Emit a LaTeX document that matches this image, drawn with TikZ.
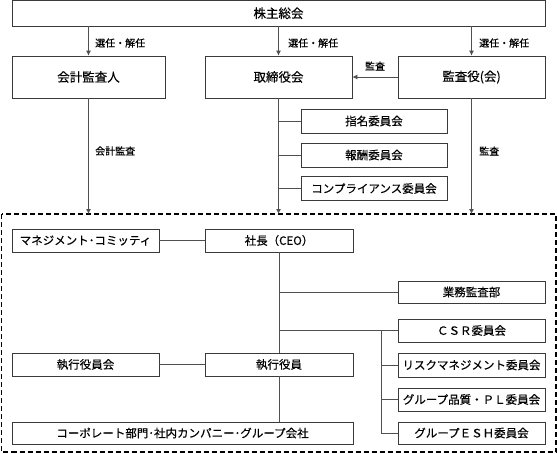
\documentclass[tikz,border=0pt]{standalone}
\usepackage{fontspec}
\setmainfont{Noto Sans CJK JP}[FakeBold=0.35]
\usetikzlibrary{arrows.meta}
\definecolor{boxline}{HTML}{3A3A3A}
\definecolor{conn}{HTML}{505050}
\begin{document}
\begin{tikzpicture}[x=1pt,y=-1pt,
  box/.style={draw=boxline,line width=0.8pt,inner sep=0pt,minimum height=23pt,font=\fontsize{11.5}{12}\selectfont},
  bigbox/.style={box,minimum height=42pt,font=\fontsize{12.5}{13}\selectfont},
  wire/.style={draw=conn,line width=0.8pt},
  arr/.style={wire,-{Latex[length=5pt,width=5pt]}},
  lbl/.style={font=\fontsize{10}{10}\selectfont,inner sep=0pt,anchor=west},
  dashbox/.style={draw=black,line width=1.4pt,dash pattern=on 5pt off 3pt}]
\useasboundingbox (0,0) rectangle (557,453);
% top
\node[box,minimum width=533pt,minimum height=25.5pt,font=\fontsize{12.5}{13}\selectfont] (sh) at (278.5,13.25) {株主総会};
\node[bigbox,minimum width=153pt] (kk) at (88.5,77) {会計監査人};
\node[bigbox,minimum width=147pt] (tr) at (278.5,77) {取締役会};
\node[bigbox,minimum width=147pt] (ks) at (471.5,77) {監査役(会)};
% committees
\node[box,minimum width=146pt,minimum height=24pt] (c1) at (374,121) {指名委員会};
\node[box,minimum width=146pt,minimum height=24pt] (c2) at (374,155) {報酬委員会};
\node[box,minimum width=146pt,minimum height=24pt] (c3) at (374,188.5) {コンプライアンス委員会};
% dashed frame
\draw[dashbox] (1.5,214) rectangle (556,452);
\coordinate (dtop) at (278,214);
% inside
\node[box,minimum width=147pt] (mc) at (85.5,240.5) {マネジメント･コミッティ};
\node[box,minimum width=148pt] (ceo) at (279,240.5) {社長（CEO）};
\node[box,minimum width=147pt,minimum height=22pt] (gm) at (471.5,292) {業務監査部};
\node[box,minimum width=147pt] (csr) at (471.5,330.5) {ＣＳＲ委員会};
\node[box,minimum width=147pt,minimum height=24pt] (risk) at (471.5,365) {リスクマネジメント委員会};
\node[box,minimum width=147pt] (pl) at (471.5,399.5) {グループ品質・ＰＬ委員会};
\node[box,minimum width=147pt,minimum height=22pt] (esh) at (471.5,433) {グループＥＳＨ委員会};
\node[box,minimum width=147pt] (ey) at (85.5,364.5) {執行役員会};
\node[box,minimum width=148pt] (sy) at (279,364.5) {執行役員};
\node[box,minimum width=341pt,minimum height=22pt] (corp) at (182.5,433) {コーポレート部門･社内カンパニー･グループ会社};
% arrows from top
\draw[arr] (kk.north |- sh.south) -- (kk.north);
\draw[arr] (tr.north |- sh.south) -- (tr.north);
\draw[arr] (ks.north |- sh.south) -- (ks.north);
\node[lbl] (l1) at (95,43) {選任・解任};
\node[lbl] (l2) at (288,43) {選任・解任};
\node[lbl] (l3) at (479,43) {選任・解任};
% audit arrow
\draw[arr] (ks.west) -- (tr.east);
\node[lbl,anchor=center] (l4) at (375,66) {監査};
% down arrows to frame
\draw[arr] (kk.south) -- (kk.south |- dtop);
\draw[arr] (tr.south) -- (tr.south |- dtop);
\draw[arr] (ks.south) -- (ks.south |- dtop);
\node[lbl] (l5) at (95,151) {会計監査};
\node[lbl] (l6) at (479,151) {監査};
% committee branches
\draw[wire] (tr.south |- c1.west) -- (c1.west);
\draw[wire] (tr.south |- c2.west) -- (c2.west);
\draw[wire] (tr.south |- c3.west) -- (c3.west);
% inside connections
\draw[wire] (mc.east) -- (ceo.west);
\draw[wire] (ey.east) -- (sy.west);
\draw[wire] (ceo.south) -- (sy.north);
\draw[wire] (sy.south) -- (sy.south |- corp.north);
\draw[wire] (ceo.south |- gm.west) -- (gm.west);
\draw[wire] (ceo.south |- csr.west) -- (csr.west);
\coordinate (sub) at (381,330.5);
\draw[wire] (sub) -- (sub |- esh.west) -- (esh.west);
\draw[wire] (sub |- risk.west) -- (risk.west);
\draw[wire] (sub |- pl.west) -- (pl.west);
\end{tikzpicture}
\end{document}
